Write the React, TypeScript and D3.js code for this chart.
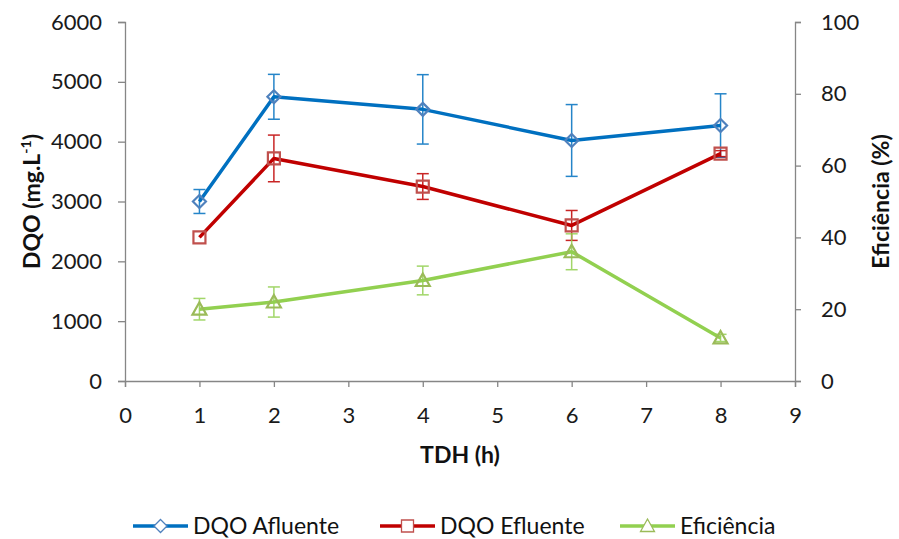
import React, { useEffect, useRef } from "react";
import * as d3 from "d3";

const tdh = [1, 2, 4, 6, 8];
const afluente = [3000, 4750, 4540, 4020, 4270];
const afluenteErr = [200, 375, 580, 600, 530];
const efluente = [2400, 3720, 3250, 2600, 3800];
const efluenteErr = [0, 390, 215, 250, 50];
const eficiencia = [20, 22, 28, 36, 12];
const eficienciaErr = [3, 4.2, 4, 5, 1];

const leftTicks = [0, 1000, 2000, 3000, 4000, 5000, 6000];
const rightTicks = [0, 20, 40, 60, 80, 100];
const xTicks = [0, 1, 2, 3, 4, 5, 6, 7, 8, 9];

const W = 899;
const H = 539;
const margin = { top: 22, right: 104, bottom: 158, left: 125 };
const font = "Lato, 'Open Sans', sans-serif";
const axisColor = "#868686";

const App = () => {
  const ref = useRef<SVGSVGElement>(null);

  useEffect(() => {
    document.body.style.margin = "0";
    const svg = d3.select(ref.current);
    svg.selectAll("*").remove();

    const x = d3.scaleLinear().domain([0, 9]).range([margin.left, W - margin.right]);
    const yL = d3.scaleLinear().domain([0, 6000]).range([H - margin.bottom, margin.top]);
    const yR = d3.scaleLinear().domain([0, 100]).range([H - margin.bottom, margin.top]);

    // axes
    const styleAxis = (g) => {
      g.select(".domain").attr("stroke", axisColor).attr("stroke-width", 1.3);
      g.selectAll(".tick line").attr("stroke", axisColor).attr("stroke-width", 1.3);
      g.selectAll(".tick text")
        .attr("fill", "#1a1a1a")
        .style("font-family", font)
        .style("font-size", "22px");
    };

    svg
      .append("g")
      .attr("transform", `translate(${margin.left},0)`)
      .call(d3.axisLeft(yL).tickValues(leftTicks).tickSize(7).tickSizeOuter(7).tickPadding(16).tickFormat(d3.format("d")))
      .call(styleAxis);

    svg
      .append("g")
      .attr("transform", `translate(${W - margin.right},0)`)
      .call(d3.axisRight(yR).tickValues(rightTicks).tickSize(6).tickSizeOuter(6).tickPadding(20).tickFormat(d3.format("d")))
      .call(styleAxis);

    svg
      .append("g")
      .attr("transform", `translate(0,${H - margin.bottom})`)
      .call(d3.axisBottom(x).tickValues(xTicks).tickSize(6).tickSizeOuter(6).tickPadding(20).tickFormat(d3.format("d")))
      .call(styleAxis);

    // axis titles
    const yMid = (margin.top + H - margin.bottom) / 2;
    const title = (sel) =>
      sel
        .attr("text-anchor", "middle")
        .style("font-family", font)
        .style("font-size", "23px")
        .style("font-weight", "bold")
        .attr("fill", "#111");

    svg
      .append("text")
      .attr("transform", `translate(40,${yMid}) rotate(-90)`)
      .call(title)
      .call((t) => {
        t.append("tspan").text("DQO (mg.L");
        t.append("tspan").attr("dy", -9).style("font-size", "14px").text("-1");
        t.append("tspan").attr("dy", 9).text(")");
      });

    svg
      .append("text")
      .attr("transform", `translate(889,${yMid}) rotate(-90)`)
      .call(title)
      .text("Eficiência (%)");

    svg
      .append("text")
      .attr("x", (margin.left + W - margin.right) / 2)
      .attr("y", 463)
      .call(title)
      .text("TDH (h)");

    const series = [
      { name: "DQO Afluente", values: afluente, err: afluenteErr, y: yL, line: "#0070C0", mark: "#4F81BD", shape: "diamond" },
      { name: "DQO Efluente", values: efluente, err: efluenteErr, y: yL, line: "#C00000", mark: "#C0504D", shape: "square" },
      { name: "Eficiência", values: eficiencia, err: eficienciaErr, y: yR, line: "#92D050", mark: "#9BBB59", shape: "triangle" },
    ];

    const markerPath = (shape) => {
      if (shape === "diamond") return "M0,-6.5L6.5,0L0,6.5L-6.5,0Z";
      if (shape === "square") return "M-6,-6H6V6H-6Z";
      return "M0,-7L7,5.5H-7Z";
    };

    series.forEach((s) => {
      const g = svg.append("g");
      const pts = tdh.map((t, i) => ({ t, v: s.values[i], e: s.err[i] }));

      g.append("path")
        .datum(pts)
        .attr("fill", "none")
        .attr("stroke", s.line)
        .attr("stroke-width", 3.5)
        .attr("stroke-linejoin", "round")
        .attr("d", d3.line<any>().x((d) => x(d.t)).y((d) => s.y(d.v)));

      const eb = g
        .selectAll(".err")
        .data(pts.filter((d) => d.e > 0))
        .join("g")
        .attr("stroke", s.line)
        .attr("stroke-width", 1.5)
        .style("opacity", 0.85);
      eb.append("line")
        .attr("x1", (d) => x(d.t))
        .attr("x2", (d) => x(d.t))
        .attr("y1", (d) => s.y(d.v + d.e))
        .attr("y2", (d) => s.y(d.v - d.e));
      eb.append("line")
        .attr("x1", (d) => x(d.t) - 6)
        .attr("x2", (d) => x(d.t) + 6)
        .attr("y1", (d) => s.y(d.v + d.e))
        .attr("y2", (d) => s.y(d.v + d.e));
      eb.append("line")
        .attr("x1", (d) => x(d.t) - 6)
        .attr("x2", (d) => x(d.t) + 6)
        .attr("y1", (d) => s.y(d.v - d.e))
        .attr("y2", (d) => s.y(d.v - d.e));

      g.selectAll(".mk")
        .data(pts)
        .join("path")
        .attr("transform", (d) => `translate(${x(d.t)},${s.y(d.v)})`)
        .attr("d", markerPath(s.shape))
        .attr("fill", "none")
        .attr("stroke", s.mark)
        .attr("stroke-width", 2.2);
    });

    // legend
    const legendX = [133, 380, 620];
    const ly = 526;
    series.forEach((s, i) => {
      const g = svg.append("g").attr("transform", `translate(${legendX[i]},${ly})`);
      g.append("line").attr("x1", 0).attr("x2", 55).attr("y1", 0).attr("y2", 0).attr("stroke", s.line).attr("stroke-width", 3.5);
      g.append("path")
        .attr("transform", "translate(27.5,0)")
        .attr("d", markerPath(s.shape))
        .attr("fill", "white")
        .attr("stroke", s.mark)
        .attr("stroke-width", 1.3);
      g.append("text")
        .attr("x", 60)
        .attr("y", 8)
        .style("font-family", font)
        .style("font-size", "23px")
        .attr("fill", "#111")
        .text(s.name);
    });
  }, []);

  return <svg ref={ref} width={W} height={H} style={{ display: "block", background: "white" }} />;
};

export default App;
